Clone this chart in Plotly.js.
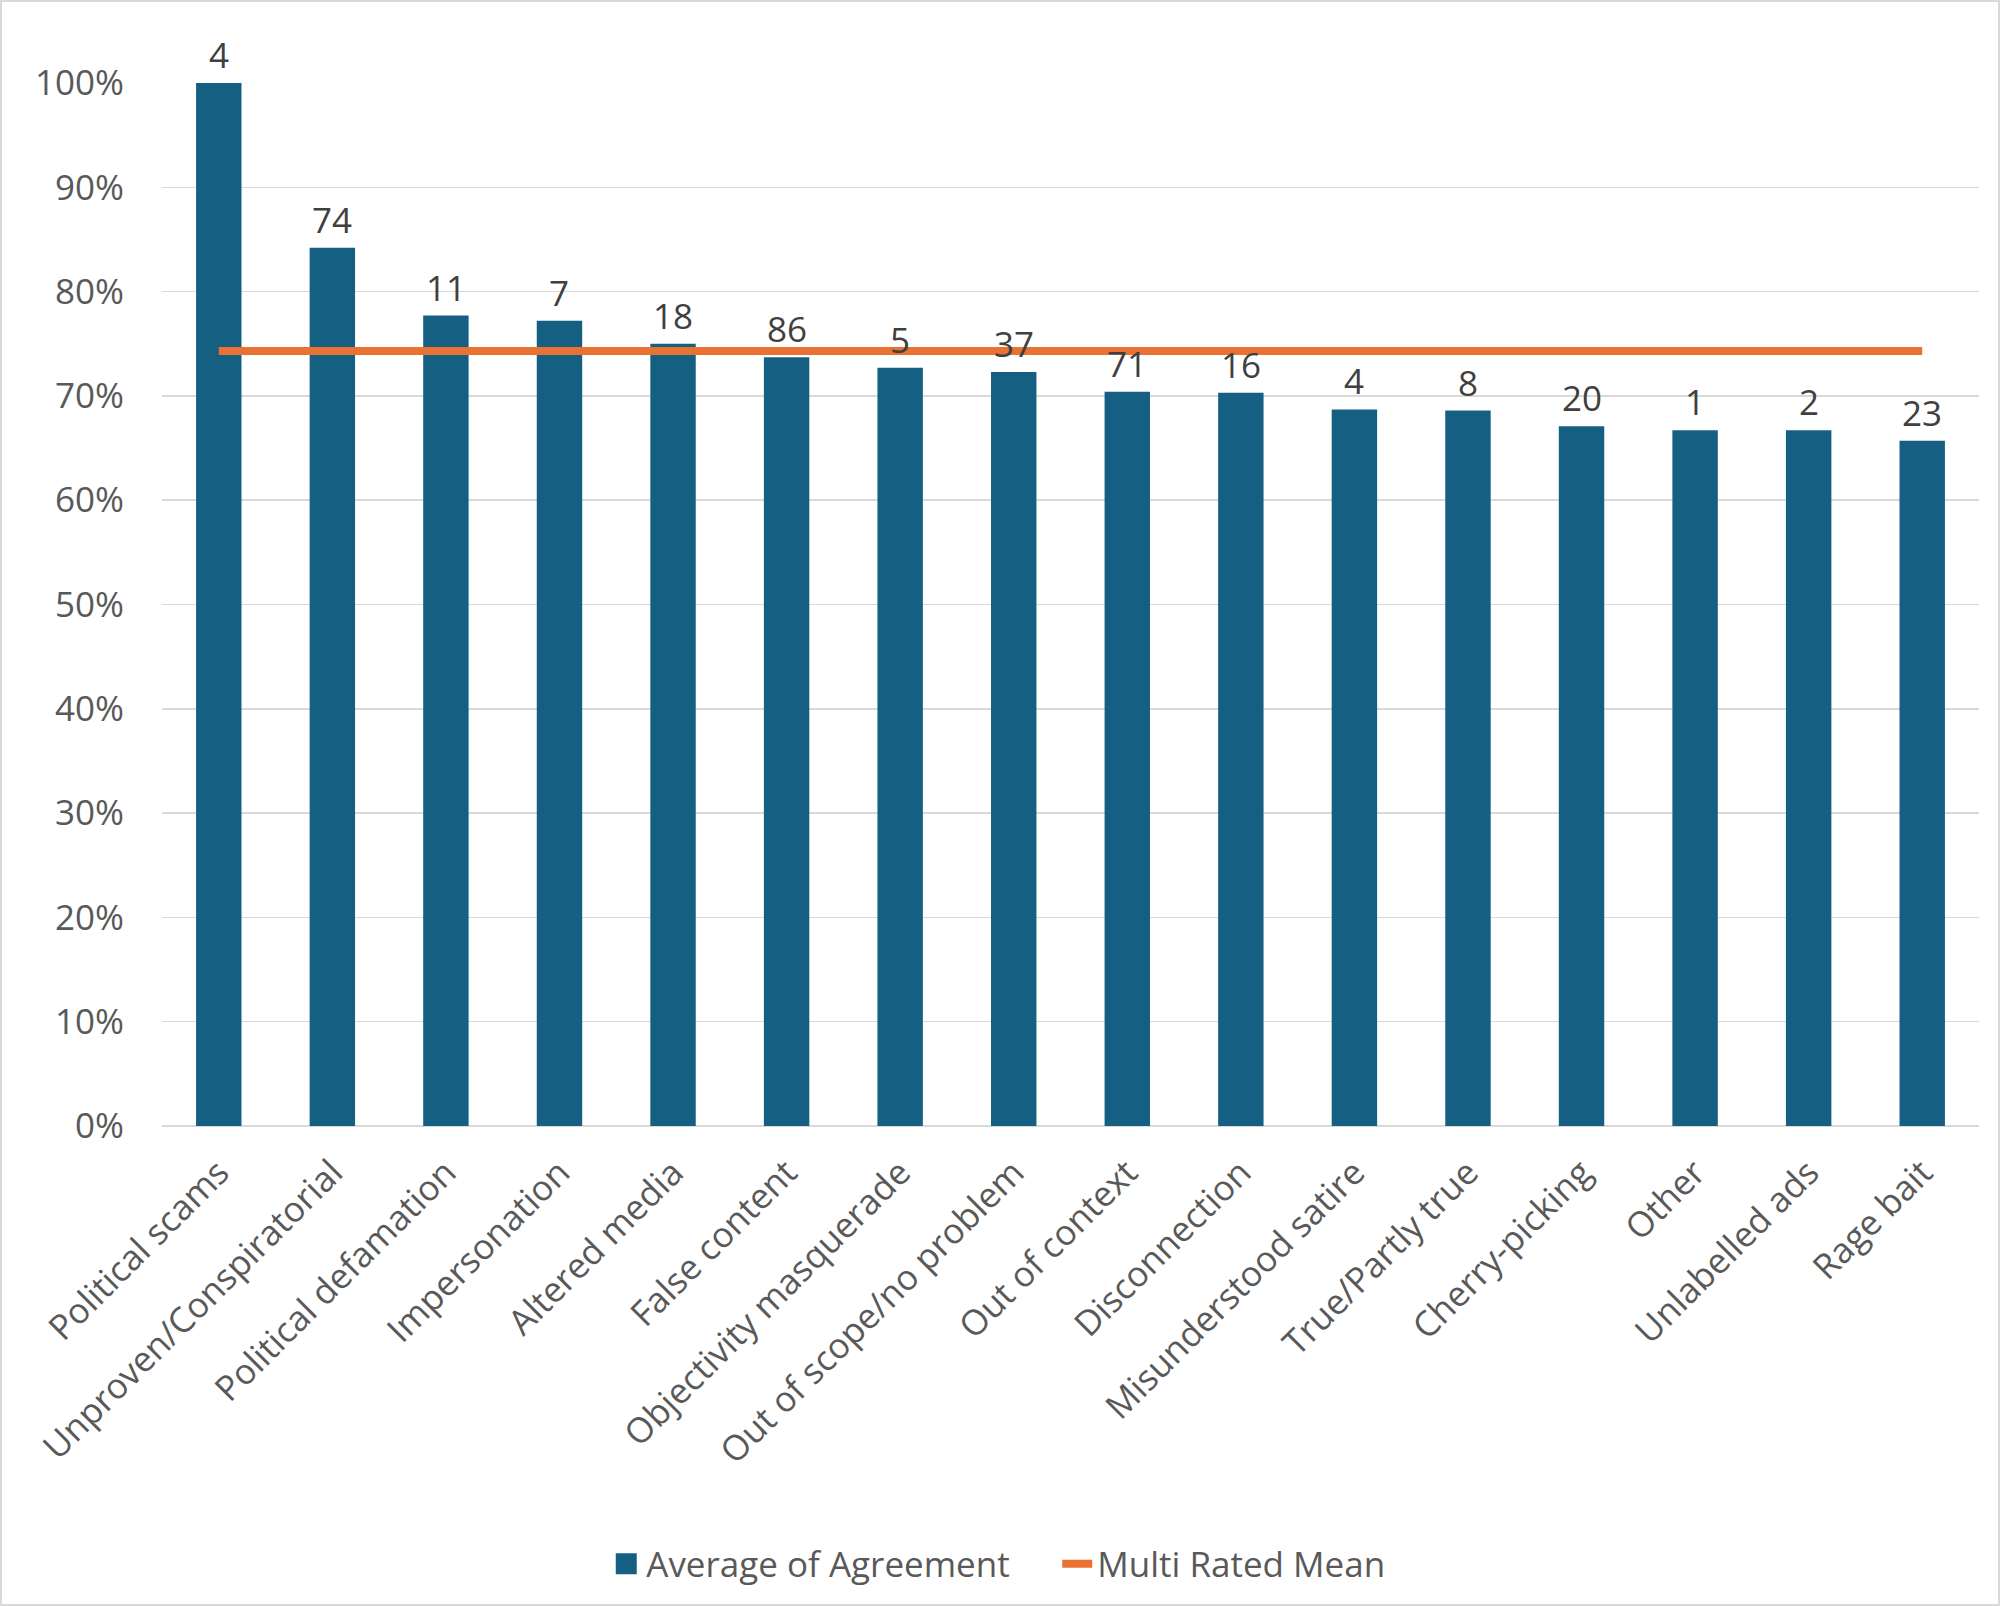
<!DOCTYPE html>
<html>
<head>
<meta charset="utf-8">
<script src="https://cdn.plot.ly/plotly-3.0.1.min.js"></script>
<style>
  body { margin: 0; background: #fff; }
  #chart { width: 2000px; height: 1606px; outline: 2px solid #d9d9d9; outline-offset: -2px; }
</style>
</head>
<body>
<div id="chart"></div>
<script>
var categories = ['Political scams', 'Unproven/Conspiratorial', 'Political defamation', 'Impersonation',
    'Altered media', 'False content', 'Objectivity masquerade', 'Out of scope/no problem',
    'Out of context', 'Disconnection', 'Misunderstood satire', 'True/Partly true',
    'Cherry-picking', 'Other', 'Unlabelled ads', 'Rage bait'];
var agreement = [1.000, 0.842, 0.777, 0.772, 0.750, 0.737, 0.727, 0.723,
    0.704, 0.703, 0.687, 0.686, 0.671, 0.667, 0.667, 0.657];
var counts = [4, 74, 11, 7, 18, 86, 5, 37, 71, 16, 4, 8, 20, 1, 2, 23];
var multiMean = [0.743, 0.743, 0.743, 0.743, 0.743, 0.743, 0.743, 0.743,
    0.743, 0.743, 0.743, 0.743, 0.743, 0.743, 0.743, 0.743];

var fontFam = 'Open Sans, sans-serif';
var fsize = 35;

// count labels above each bar
var labels = [];
for (var i = 0; i < categories.length; i++) {
    labels.push({
        x: categories[i], y: agreement[i], text: String(counts[i]),
        showarrow: false, yanchor: 'bottom', yshift: 3,
        font: {family: fontFam, size: fsize, color: '#404040'}
    });
}

var traces = [
    {
        type: 'bar', name: 'Average of Agreement',
        x: categories, y: agreement,
        marker: {color: '#156082'},
        showlegend: false
    },
    // legend entry only, bigger square than the default bar swatch
    {
        type: 'scatter', mode: 'markers', name: 'Average of Agreement',
        x: [null], y: [null],
        marker: {color: '#156082', symbol: 'square', size: 16,
                 line: {color: '#156082', width: 5}}
    },
    {
        type: 'scatter', mode: 'lines', name: 'Multi Rated Mean',
        x: categories, y: multiMean,
        line: {color: '#E97132', width: 8},
        cliponaxis: false
    }
];

var layout = {
    width: 2000, height: 1606,
    margin: {l: 162, r: 21, t: 83, b: 480},
    paper_bgcolor: 'rgba(0,0,0,0)', plot_bgcolor: '#fff',
    font: {family: fontFam, size: fsize, color: '#595959'},
    bargap: 0.6,
    showlegend: true,
    legend: {
        orientation: 'h', x: 0.2445, xanchor: 'left', y: -0.42, yanchor: 'middle',
        font: {family: fontFam, size: fsize, color: '#595959'},
        entrywidth: 406, entrywidthmode: 'pixels',
        itemwidth: 30, tracegroupgap: 0
    },
    xaxis: {
        tickangle: -45, showgrid: false, showline: false, ticks: '',
        ticklabelstandoff: 18,
        tickfont: {family: fontFam, size: fsize, color: '#595959'},
        fixedrange: true
    },
    yaxis: {
        range: [0, 1], dtick: 0.1, tickformat: '.0%',
        showgrid: true, gridcolor: '#d9d9d9', gridwidth: 1.5,
        zeroline: true, zerolinecolor: '#d9d9d9', zerolinewidth: 1.5,
        showline: false, ticks: '', ticklabelstandoff: 37,
        tickfont: {family: fontFam, size: fsize, color: '#595959'},
        fixedrange: true
    },
    annotations: labels
};

Plotly.newPlot('chart', traces, layout, {displayModeBar: false, staticPlot: true});
</script>
</body>
</html>
